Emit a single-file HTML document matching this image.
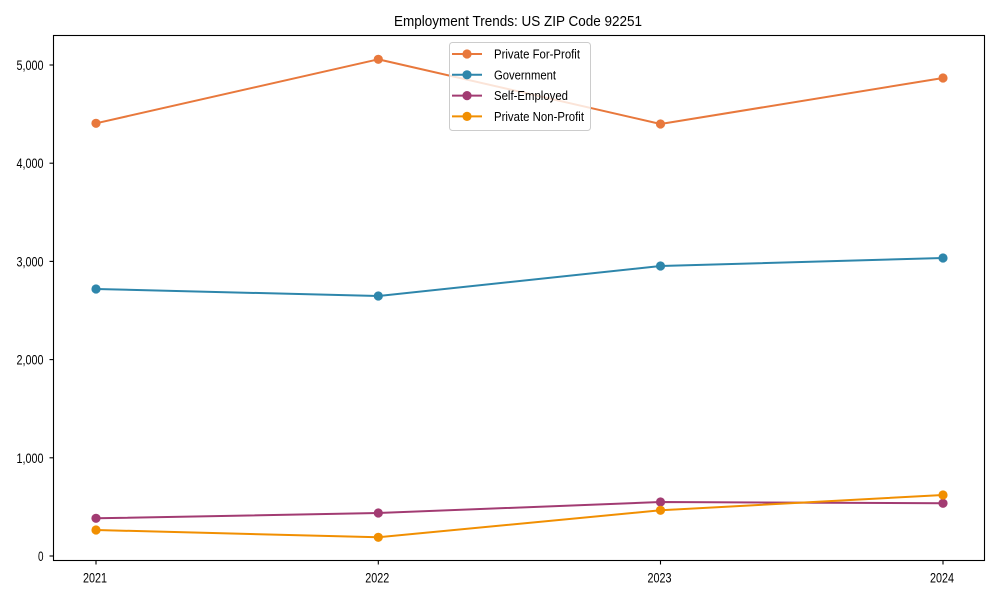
<!DOCTYPE html>
<html><head><meta charset="utf-8"><style>
html,body{margin:0;padding:0;background:#fff;}
svg{display:block;}
text{font-family:"Liberation Sans",Arial,sans-serif;fill:#000;}
</style></head><body>
<svg width="1000" height="600" viewBox="0 0 1000 600" xmlns="http://www.w3.org/2000/svg">
<rect width="1000" height="600" fill="#fff"/>
<text x="518" y="26" font-size="14.5" text-anchor="middle" textLength="248" lengthAdjust="spacingAndGlyphs">Employment Trends: US ZIP Code 92251</text>

<!-- series -->
<g fill="none" stroke-width="2" stroke-linejoin="round">
<polyline stroke="#E8783C" points="96,123.3 378.3,59.3 660.5,124 943,78"/>
<polyline stroke="#2E86AB" points="96,289 378.3,296 660.5,266 943,258"/>
<polyline stroke="#A23B72" points="96,518.3 378.3,513 660.5,502 943,503.3"/>
<polyline stroke="#F18F01" points="96,530 378.3,537.3 660.5,510.3 943,495"/>
</g>
<g fill="#E8783C"><circle cx="96" cy="123.3" r="4.6"/><circle cx="378.3" cy="59.3" r="4.6"/><circle cx="660.5" cy="124" r="4.6"/><circle cx="943" cy="78" r="4.6"/></g>
<g fill="#2E86AB"><circle cx="96" cy="289" r="4.6"/><circle cx="378.3" cy="296" r="4.6"/><circle cx="660.5" cy="266" r="4.6"/><circle cx="943" cy="258" r="4.6"/></g>
<g fill="#A23B72"><circle cx="96" cy="518.3" r="4.6"/><circle cx="378.3" cy="513" r="4.6"/><circle cx="660.5" cy="502" r="4.6"/><circle cx="943" cy="503.3" r="4.6"/></g>
<g fill="#F18F01"><circle cx="96" cy="530" r="4.6"/><circle cx="378.3" cy="537.3" r="4.6"/><circle cx="660.5" cy="510.3" r="4.6"/><circle cx="943" cy="495" r="4.6"/></g>

<!-- axes frame -->
<rect x="53.5" y="35.5" width="931" height="525" fill="none" stroke="#000" stroke-width="1.1"/>

<!-- ticks -->
<g stroke="#000" stroke-width="1.1">
<line x1="49.5" y1="556" x2="53.5" y2="556"/>
<line x1="49.5" y1="457.8" x2="53.5" y2="457.8"/>
<line x1="49.5" y1="359.6" x2="53.5" y2="359.6"/>
<line x1="49.5" y1="261.4" x2="53.5" y2="261.4"/>
<line x1="49.5" y1="163.2" x2="53.5" y2="163.2"/>
<line x1="49.5" y1="65" x2="53.5" y2="65"/>
<line x1="96" y1="560.5" x2="96" y2="564.5"/>
<line x1="378.3" y1="560.5" x2="378.3" y2="564.5"/>
<line x1="660.5" y1="560.5" x2="660.5" y2="564.5"/>
<line x1="943" y1="560.5" x2="943" y2="564.5"/>
</g>
<g font-size="13.5" text-anchor="end">
<text x="43.5" y="561" textLength="5.5" lengthAdjust="spacingAndGlyphs">0</text>
<text x="43.5" y="462.8" textLength="27" lengthAdjust="spacingAndGlyphs">1,000</text>
<text x="43.5" y="364.6" textLength="27" lengthAdjust="spacingAndGlyphs">2,000</text>
<text x="43.5" y="266.4" textLength="27" lengthAdjust="spacingAndGlyphs">3,000</text>
<text x="43.5" y="168.2" textLength="27" lengthAdjust="spacingAndGlyphs">4,000</text>
<text x="43.5" y="70" textLength="27" lengthAdjust="spacingAndGlyphs">5,000</text>
</g>
<g font-size="13.5" text-anchor="middle">
<text x="95" y="582.5" textLength="24" lengthAdjust="spacingAndGlyphs">2021</text>
<text x="377.3" y="582.5" textLength="24" lengthAdjust="spacingAndGlyphs">2022</text>
<text x="659.5" y="582.5" textLength="24" lengthAdjust="spacingAndGlyphs">2023</text>
<text x="942" y="582.5" textLength="24" lengthAdjust="spacingAndGlyphs">2024</text>
</g>

<!-- legend -->
<rect x="449.5" y="42.5" width="141" height="88" rx="3" ry="3" fill="#fff" fill-opacity="0.8" stroke="#cccccc" stroke-width="1"/>
<g stroke-width="2">
<line x1="452" y1="54" x2="482" y2="54" stroke="#E8783C"/>
<line x1="452" y1="74.8" x2="482" y2="74.8" stroke="#2E86AB"/>
<line x1="452" y1="95.6" x2="482" y2="95.6" stroke="#A23B72"/>
<line x1="452" y1="116.4" x2="482" y2="116.4" stroke="#F18F01"/>
</g>
<circle cx="467" cy="54" r="4.6" fill="#E8783C"/>
<circle cx="467" cy="74.8" r="4.6" fill="#2E86AB"/>
<circle cx="467" cy="95.6" r="4.6" fill="#A23B72"/>
<circle cx="467" cy="116.4" r="4.6" fill="#F18F01"/>
<g font-size="12.5">
<text x="494" y="58.5" textLength="86" lengthAdjust="spacingAndGlyphs">Private For-Profit</text>
<text x="494" y="79.3" textLength="62" lengthAdjust="spacingAndGlyphs">Government</text>
<text x="494" y="100.1" textLength="74" lengthAdjust="spacingAndGlyphs">Self-Employed</text>
<text x="494" y="120.9" textLength="90" lengthAdjust="spacingAndGlyphs">Private Non-Profit</text>
</g>
</svg>
</body></html>
